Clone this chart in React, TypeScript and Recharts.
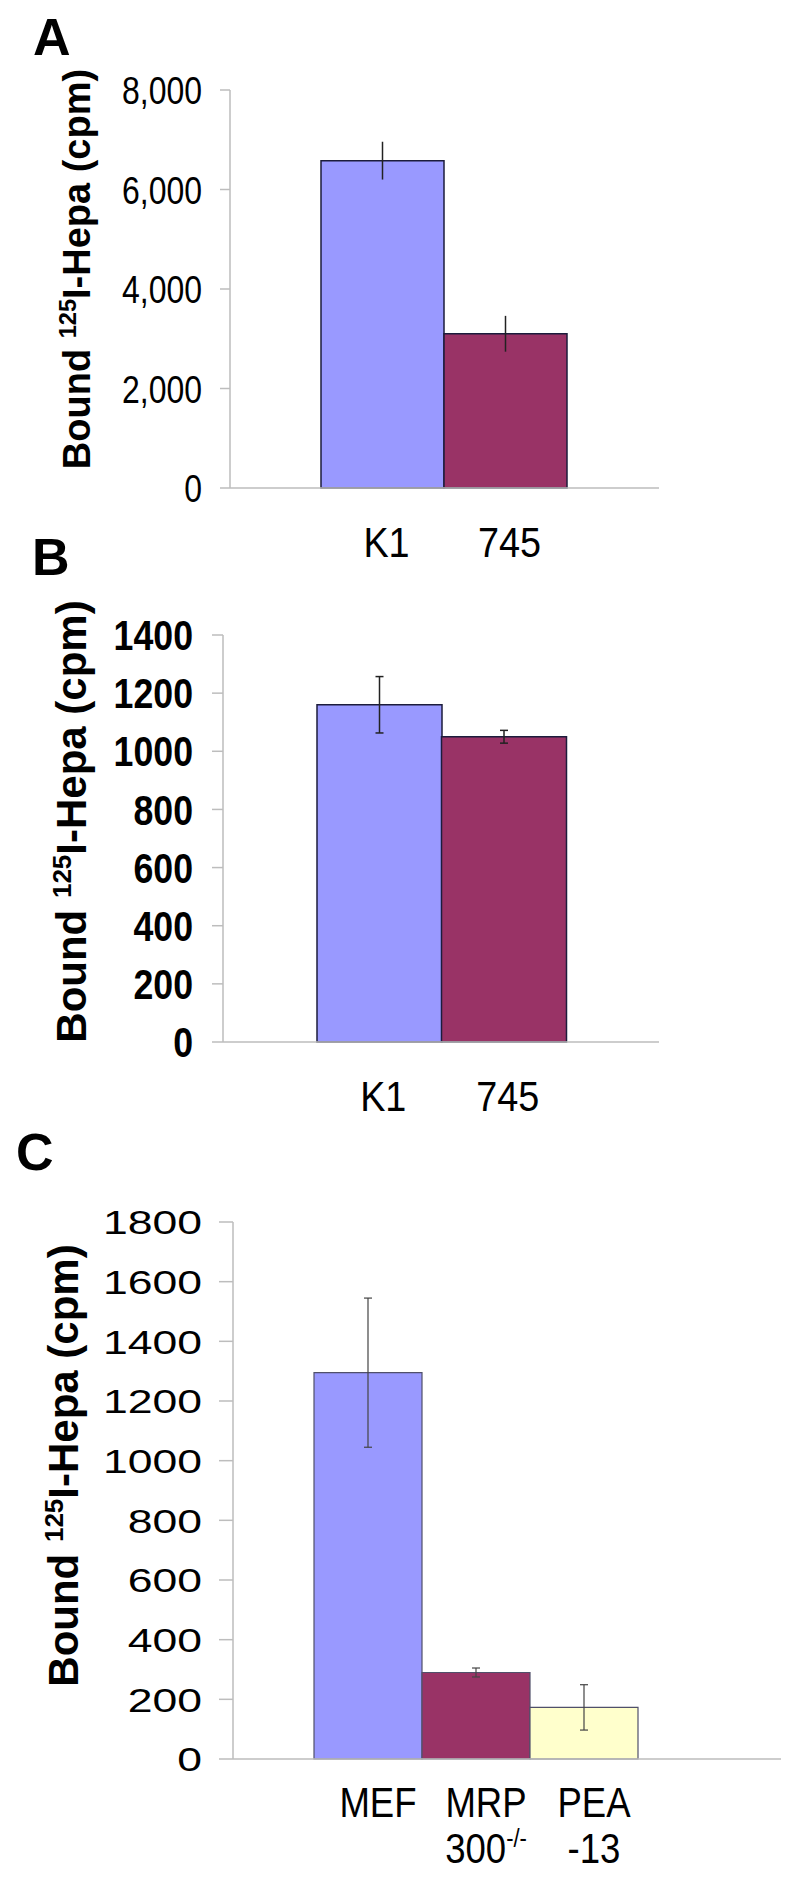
import React from 'react';
import { Bar, BarChart, Cell, ErrorBar, XAxis, YAxis } from 'recharts';

const FONT = '"Liberation Sans", Arial, Helvetica, sans-serif';

// panel A
const aCategories = ['K1', '745'];
const aValues = [6580, 3100];
const aErrors = [380, 360];
const aTicks = [0, 2000, 4000, 6000, 8000];

// panel B
const bCategories = ['K1', '745'];
const bValues = [1160, 1050];
const bErrors = [97, 22];
const bTicks = [0, 200, 400, 600, 800, 1000, 1200, 1400];

// panel C
const cCategories = ['MEF', 'MRP', 'PEA'];
const cSecondLine = ['', '300', '-13'];
const cSuperscript = ['', '-/-', ''];
const cValues = [1295, 290, 173];
const cErrors = [250, 15, 76];
const cTicks = [0, 200, 400, 600, 800, 1000, 1200, 1400, 1600, 1800];

const barColors = ['#9999ff', '#993366', '#ffffcc'];
const AXIS_GREY = '#bdbdbd';

const toRows = (cats: string[], vals: number[], errs: number[]) =>
	cats.map((name, i) => ({ name, idx: i, value: vals[i], err: errs[i] }));

// y tick, squeezed or stretched horizontally like the original figure
const YTick = (props: any) => {
	const { x, y, payload, fontSize, sx, bold, comma } = props;
	const label = comma
		? Number(payload.value).toLocaleString('en-US')
		: String(payload.value);
	return (
		<g transform={`translate(${x},${y})`}>
			<text
				transform={`scale(${sx},1)`}
				textAnchor="end"
				dy="0.36em"
				fontSize={fontSize}
				fontWeight={bold ? 700 : 400}
				fontFamily={FONT}
				fill="#000"
			>
				{label}
			</text>
		</g>
	);
};

// category labels under the bars (one or two lines)
const XTick = (props: any) => {
	const { x, y, payload, index, fontSize, sx, dx, line1, line2, second, sup } = props;
	const two = second ? second[index] : '';
	const s = sup ? sup[index] : '';
	return (
		<g transform={`translate(${x + dx},${y})`}>
			<text
				transform={`scale(${sx},1)`}
				textAnchor="middle"
				y={line1}
				fontSize={fontSize}
				fontFamily={FONT}
				fill="#000"
			>
				{payload.value}
			</text>
			{two ? (
				<text
					transform={`scale(${sx},1)`}
					textAnchor="middle"
					y={line2}
					fontSize={fontSize}
					fontFamily={FONT}
					fill="#000"
				>
					{two}
					{s ? (
						<tspan fontSize={fontSize * 0.6} dy={-fontSize * 0.38}>
							{s}
						</tspan>
					) : null}
				</text>
			) : null}
		</g>
	);
};

const YLabel = (props: any) => {
	const { viewBox, baseX, dy, fontSize } = props;
	const cy = viewBox.y + viewBox.height / 2 + dy;
	return (
		<text
			transform={`rotate(-90, ${baseX}, ${cy})`}
			x={baseX}
			y={cy}
			textAnchor="middle"
			fontSize={fontSize}
			fontWeight={700}
			fontFamily={FONT}
			fill="#000"
		>
			Bound{' '}
			<tspan fontSize={fontSize * 0.62} dy={-fontSize * 0.36}>
				125
			</tspan>
			<tspan dy={fontSize * 0.36}>I-Hepa (cpm)</tspan>
		</text>
	);
};

interface PanelProps {
	top: number;
	height: number;
	data: { name: string; idx: number; value: number; err: number }[];
	ticks: number[];
	margin: { top: number; right: number; left: number; bottom: number };
	yWidth: number;
	yTickSize: number;
	yTickMargin: number;
	yTick: object;
	yLabel: object;
	pad: { left: number; right: number };
	edgeH: number;
	catH: number;
	xTick: object;
	barStroke: string;
	barStrokeW: number;
	errCap: number;
	errStroke: string;
	errW: number;
}

const Panel: React.FC<PanelProps> = (p) => (
	<div style={{ position: 'absolute', left: 0, top: p.top }}>
		<BarChart
			width={800}
			height={p.height}
			data={p.data}
			margin={p.margin}
			barCategoryGap={0}
			barGap={0}
		>
			<XAxis
				xAxisId="z_cat"
				dataKey="name"
				type="category"
				height={p.catH}
				padding={p.pad}
				axisLine={false}
				tickLine={false}
				tickSize={0}
				tickMargin={0}
				interval={0}
				tick={(t: any) => <XTick {...t} {...p.xTick} />}
			/>
			<XAxis
				xAxisId="a_edge"
				type="number"
				domain={[0, 1]}
				ticks={[0, 1]}
				height={p.edgeH}
				tick={false}
				tickSize={p.edgeH}
				tickLine={{ stroke: AXIS_GREY, strokeWidth: 1.5 }}
				axisLine={{ stroke: AXIS_GREY, strokeWidth: 1.5 }}
			/>
			<YAxis
				type="number"
				domain={[0, p.ticks[p.ticks.length - 1]]}
				ticks={p.ticks}
				interval={0}
				width={p.yWidth}
				tickSize={p.yTickSize}
				tickMargin={p.yTickMargin}
				axisLine={{ stroke: AXIS_GREY, strokeWidth: 1.5 }}
				tickLine={{ stroke: AXIS_GREY, strokeWidth: 1.5 }}
				tick={(t: any) => <YTick {...t} {...p.yTick} />}
				label={<YLabel {...p.yLabel} />}
			/>
			<Bar
				xAxisId="z_cat"
				dataKey="value"
				stroke={p.barStroke}
				strokeWidth={p.barStrokeW}
				isAnimationActive={false}
			>
				{p.data.map((d) => (
					<Cell key={d.name} fill={barColors[d.idx]} />
				))}
				<ErrorBar
					dataKey="err"
					direction="y"
					width={p.errCap}
					stroke={p.errStroke}
					strokeWidth={p.errW}
					isAnimationActive={false}
				/>
			</Bar>
		</BarChart>
	</div>
);

export default function App() {
	return (
		<div
			style={{
				position: 'absolute',
				left: 0,
				top: 0,
				width: 800,
				height: 1881,
				background: '#fff',
			}}
		>
			<Panel
				top={0}
				height={570}
				data={toRows(aCategories, aValues, aErrors)}
				ticks={aTicks}
				margin={{ top: 90, right: 141, left: 0, bottom: 12 }}
				yWidth={230}
				yTickSize={10}
				yTickMargin={18}
				yTick={{ fontSize: 39, sx: 0.82, bold: false, comma: true }}
				yLabel={{ baseX: 90, dy: -20, fontSize: 38 }}
				pad={{ left: 91, right: 92 }}
				edgeH={10}
				catH={60}
				xTick={{ fontSize: 42, sx: 0.9, dx: 4, line1: 59, line2: 0 }}
				barStroke="#1c1c3c"
				barStrokeW={1.5}
				errCap={0}
				errStroke="#222"
				errW={1.5}
			/>
			<Panel
				top={570}
				height={560}
				data={toRows(bCategories, bValues, bErrors)}
				ticks={bTicks}
				margin={{ top: 65, right: 141, left: 0, bottom: 16 }}
				yWidth={223}
				yTickSize={11}
				yTickMargin={19}
				yTick={{ fontSize: 42, sx: 0.85, bold: true, comma: false }}
				yLabel={{ baseX: 86, dy: -17, fontSize: 42 }}
				pad={{ left: 94, right: 93 }}
				edgeH={12}
				catH={60}
				xTick={{ fontSize: 42, sx: 0.9, dx: 4, line1: 57, line2: 0 }}
				barStroke="#1c1c3c"
				barStrokeW={1.5}
				errCap={4}
				errStroke="#222"
				errW={1.5}
			/>
			<Panel
				top={1130}
				height={751}
				data={toRows(cCategories, cValues, cErrors)}
				ticks={cTicks}
				margin={{ top: 92, right: 19, left: 0, bottom: 11 }}
				yWidth={233}
				yTickSize={14}
				yTickMargin={17}
				yTick={{ fontSize: 34, sx: 1.31, bold: false, comma: false }}
				yLabel={{ baseX: 78, dy: -25, fontSize: 42 }}
				pad={{ left: 81, right: 143 }}
				edgeH={11}
				catH={100}
				xTick={{
					fontSize: 42,
					sx: 0.87,
					dx: 10,
					line1: 47,
					line2: 93,
					second: cSecondLine,
					sup: cSuperscript,
				}}
				barStroke="#50506a"
				barStrokeW={1.2}
				errCap={4}
				errStroke="#444"
				errW={1.2}
			/>
			<svg
				width={800}
				height={1881}
				style={{ position: 'absolute', left: 0, top: 0, pointerEvents: 'none' }}
			>
				<text x={33} y={55} fontSize={52} fontWeight={700} fontFamily={FONT}>
					A
				</text>
				<text x={32} y={575} fontSize={52} fontWeight={700} fontFamily={FONT}>
					B
				</text>
				<text x={16} y={1170} fontSize={52} fontWeight={700} fontFamily={FONT}>
					C
				</text>
			</svg>
		</div>
	);
}
